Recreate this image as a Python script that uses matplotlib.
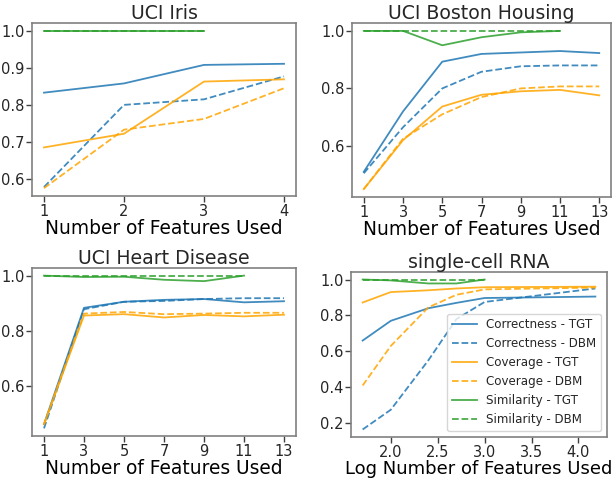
import numpy as np
import matplotlib
matplotlib.use("Agg")
import matplotlib.pyplot as plt

# Iris
iris_x = [1, 2, 3, 4]
iris_corr_tgt = [0.833, 0.858, 0.908, 0.911]
iris_corr_dbm = [0.578, 0.800, 0.815, 0.877]
iris_cov_tgt = [0.685, 0.722, 0.863, 0.869]
iris_cov_dbm = [0.575, 0.733, 0.762, 0.845]
iris_sim_x = [1, 2, 3]
iris_sim_tgt = [1.0, 1.0, 1.0]
iris_sim_dbm = [1.0, 1.0, 1.0]

# Boston Housing
bos_x = [1, 3, 5, 7, 9, 11, 13]
bos_corr_tgt = [0.510, 0.720, 0.893, 0.920, 0.925, 0.930, 0.923]
bos_corr_dbm = [0.505, 0.665, 0.800, 0.858, 0.877, 0.880, 0.880]
bos_cov_tgt = [0.450, 0.620, 0.737, 0.778, 0.790, 0.795, 0.776]
bos_cov_dbm = [0.450, 0.625, 0.710, 0.770, 0.800, 0.807, 0.807]
bos_sim_x = [1, 3, 5, 7, 9, 11]
bos_sim_tgt = [1.0, 1.0, 0.950, 0.978, 0.995, 1.0]
bos_sim_dbm = [1.0, 1.0, 1.0, 1.0, 1.0, 1.0]

# Heart Disease
heart_x = [1, 3, 5, 7, 9, 11, 13]
heart_corr_tgt = [0.460, 0.883, 0.905, 0.912, 0.915, 0.903, 0.907]
heart_corr_dbm = [0.445, 0.878, 0.905, 0.908, 0.915, 0.918, 0.918]
heart_cov_tgt = [0.460, 0.855, 0.860, 0.848, 0.857, 0.852, 0.858]
heart_cov_dbm = [0.460, 0.862, 0.868, 0.860, 0.862, 0.865, 0.865]
heart_sim_x = [1, 3, 5, 7, 9, 11]
heart_sim_tgt = [1.0, 0.995, 0.996, 0.985, 0.980, 1.0]
heart_sim_dbm = [1.0, 1.0, 1.0, 1.0, 1.0, 1.0]

# single-cell RNA (log10 of number of features)
rna_x = [1.7, 2.0, 2.4, 2.7, 3.0, 4.18]
rna_corr_tgt = [0.660, 0.770, 0.840, 0.870, 0.897, 0.905]
rna_corr_dbm = [0.165, 0.275, 0.550, 0.780, 0.875, 0.950]
rna_cov_tgt = [0.872, 0.930, 0.940, 0.950, 0.957, 0.960]
rna_cov_dbm = [0.410, 0.630, 0.845, 0.915, 0.945, 0.955]
rna_sim_x = [1.7, 2.0, 2.4, 2.7, 3.0]
rna_sim_tgt = [1.0, 0.995, 0.978, 0.978, 1.0]
rna_sim_dbm = [1.0, 1.0, 1.0, 1.0, 1.0]

BLUE = "#1f77b4"
ORANGE = "orange"
GREEN = "#2ca02c"
TXT = "#262626"

plt.rcParams["font.family"] = "DejaVu Sans"
plt.rcParams["text.color"] = TXT
plt.rcParams["xtick.color"] = TXT
plt.rcParams["ytick.color"] = TXT
plt.rcParams["axes.edgecolor"] = "#808080"

W, H = 616.0, 480.0
fig = plt.figure(figsize=(W / 100, H / 100), dpi=100)


# boxes given in pixels: left, top, right, bottom
def box(l, t, r, b):
    return [l / W, 1 - b / H, (r - l) / W, (b - t) / H]


def draw(ax, x, ct, cd, vt, vd, sx, st, sd, title, xlabel, xl_size=13.4):
    ax.plot(x, ct, color=BLUE, lw=1.3, alpha=0.85, label="Correctness - TGT")
    ax.plot(x, cd, color=BLUE, lw=1.3, alpha=0.85, ls="--", label="Correctness - DBM")
    ax.plot(x, vt, color=ORANGE, lw=1.3, alpha=0.85, label="Coverage - TGT")
    ax.plot(x, vd, color=ORANGE, lw=1.3, alpha=0.85, ls="--", label="Coverage - DBM")
    ax.plot(sx, st, color=GREEN, lw=1.3, alpha=0.85, label="Similarity - TGT")
    ax.plot(sx, sd, color=GREEN, lw=1.3, alpha=0.85, ls="--", label="Similarity - DBM")
    ax.set_title(title, fontsize=13.6, pad=3)
    ax.set_xlabel(xlabel, fontsize=xl_size, labelpad=0)
    ax.tick_params(labelsize=10.5, length=4, width=1, color="#404040", pad=1.5)
    for s in ax.spines.values():
        s.set_linewidth(1.2)


ax1 = fig.add_axes(box(32, 23, 296, 196))
draw(ax1, iris_x, iris_corr_tgt, iris_corr_dbm, iris_cov_tgt, iris_cov_dbm,
     iris_sim_x, iris_sim_tgt, iris_sim_dbm, "UCI Iris", "Number of Features Used")
ax1.set_xticks(iris_x)
ax1.set_yticks([0.6, 0.7, 0.8, 0.9, 1.0])

ax2 = fig.add_axes(box(352, 23, 611, 197))
draw(ax2, bos_x, bos_corr_tgt, bos_corr_dbm, bos_cov_tgt, bos_cov_dbm,
     bos_sim_x, bos_sim_tgt, bos_sim_dbm, "UCI Boston Housing", "Number of Features Used")
ax2.set_xticks(bos_x)
ax2.set_yticks([0.6, 0.8, 1.0])

ax3 = fig.add_axes(box(32, 268, 296, 436))
draw(ax3, heart_x, heart_corr_tgt, heart_corr_dbm, heart_cov_tgt, heart_cov_dbm,
     heart_sim_x, heart_sim_tgt, heart_sim_dbm, "UCI Heart Disease", "Number of Features Used")
ax3.set_xticks(heart_x)
ax3.set_yticks([0.6, 0.8, 1.0])

ax4 = fig.add_axes(box(351, 272, 607, 437))
draw(ax4, rna_x, rna_corr_tgt, rna_corr_dbm, rna_cov_tgt, rna_cov_dbm,
     rna_sim_x, rna_sim_tgt, rna_sim_dbm, "single-cell RNA", "Log Number of Features Used",
     xl_size=13.0)
ax4.set_xticks([2.0, 2.5, 3.0, 3.5, 4.0])
ax4.set_yticks([0.2, 0.4, 0.6, 0.8, 1.0])
ax4.legend(loc="lower right", fontsize=8.6, handlelength=2.1, handletextpad=0.75,
           labelspacing=0.5, borderpad=0.4, framealpha=0.8)

fig.savefig("out.png", dpi=100)
